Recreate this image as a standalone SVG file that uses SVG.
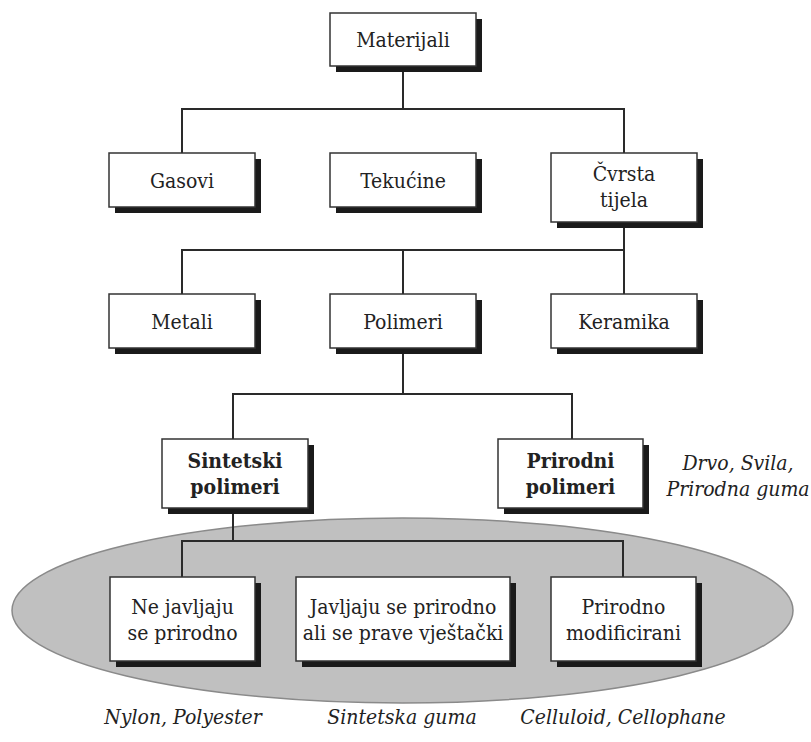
<svg xmlns="http://www.w3.org/2000/svg" width="811" height="742" viewBox="0 0 811 742">
<style>
.sh{fill:#1a1a1a}
.bx{fill:#fff;stroke:#333;stroke-width:1.5}
text{font-family:'DejaVu Serif Condensed','DejaVu Serif',serif;font-stretch:condensed;font-size:21px;fill:#222;text-anchor:middle}
.b{font-weight:bold}
.i{font-style:italic}
.c{fill:none;stroke:#2a2a2a;stroke-width:2}
</style>
<rect width="811" height="742" fill="#fff"/>
<ellipse id="group-ellipse" cx="402.5" cy="610.5" rx="390.5" ry="92.5" fill="#c0c0c0" stroke="#8a8a8a" stroke-width="1.5"/>
<g id="connectors" class="c">
<path d="M403 66V109M182 153V109H624V153"/>
<path d="M624 222V250M182 294V250H624V294M403 250V294"/>
<path d="M403 348V394M233 439V394H572V439"/>
<path d="M233 509V541M182 577V541H623V577"/>
</g>
<g id="n-materijali"><rect class="sh" x="336" y="19" width="146" height="53"/><rect class="bx" x="330" y="13" width="146" height="53"/><text x="403" y="47">Materijali</text></g>
<g id="n-gasovi"><rect class="sh" x="115" y="159" width="146" height="54"/><rect class="bx" x="109" y="153" width="146" height="54"/><text x="182" y="188">Gasovi</text></g>
<g id="n-tekucine"><rect class="sh" x="336" y="159" width="146" height="54"/><rect class="bx" x="330" y="153" width="146" height="54"/><text x="403" y="188">Tekućine</text></g>
<g id="n-cvrsta"><rect class="sh" x="557" y="159" width="146" height="69"/><rect class="bx" x="551" y="153" width="146" height="69"/><text x="624" y="181">Čvrsta</text><text x="624" y="207">tijela</text></g>
<g id="n-metali"><rect class="sh" x="115" y="300" width="146" height="54"/><rect class="bx" x="109" y="294" width="146" height="54"/><text x="182" y="329">Metali</text></g>
<g id="n-polimeri"><rect class="sh" x="336" y="300" width="146" height="54"/><rect class="bx" x="330" y="294" width="146" height="54"/><text x="403" y="329">Polimeri</text></g>
<g id="n-keramika"><rect class="sh" x="557" y="300" width="146" height="54"/><rect class="bx" x="551" y="294" width="146" height="54"/><text x="624" y="329">Keramika</text></g>
<g id="n-sintetski"><rect class="sh" x="168" y="445" width="146" height="69"/><rect class="bx" x="162" y="439" width="146" height="69"/><text class="b" x="235" y="468">Sintetski</text><text class="b" x="235" y="494">polimeri</text></g>
<g id="n-prirodni"><rect class="sh" x="504" y="445" width="145" height="69"/><rect class="bx" x="498" y="439" width="145" height="69"/><text class="b" x="570.5" y="468">Prirodni</text><text class="b" x="570.5" y="494">polimeri</text></g>
<g id="n-ne-javljaju"><rect class="sh" x="116" y="583" width="145" height="84"/><rect class="bx" x="110" y="577" width="145" height="84"/><text x="182.5" y="614">Ne javljaju</text><text x="182.5" y="640">se prirodno</text></g>
<g id="n-javljaju"><rect class="sh" x="302" y="583" width="214" height="84"/><rect class="bx" x="296" y="577" width="214" height="84"/><text x="403" y="614">Javljaju se prirodno</text><text x="403" y="640">ali se prave vještački</text></g>
<g id="n-modificirani"><rect class="sh" x="557" y="583" width="145" height="84"/><rect class="bx" x="551" y="577" width="145" height="84"/><text x="623.5" y="614">Prirodno</text><text x="623.5" y="640">modificirani</text></g>
<g id="examples">
<text class="i" x="738" y="470">Drvo, Svila,</text>
<text class="i" x="738" y="496">Prirodna guma</text>
<text class="i" x="183" y="724">Nylon, Polyester</text>
<text class="i" x="402" y="724">Sintetska guma</text>
<text class="i" x="623" y="724">Celluloid, Cellophane</text>
</g>
</svg>
